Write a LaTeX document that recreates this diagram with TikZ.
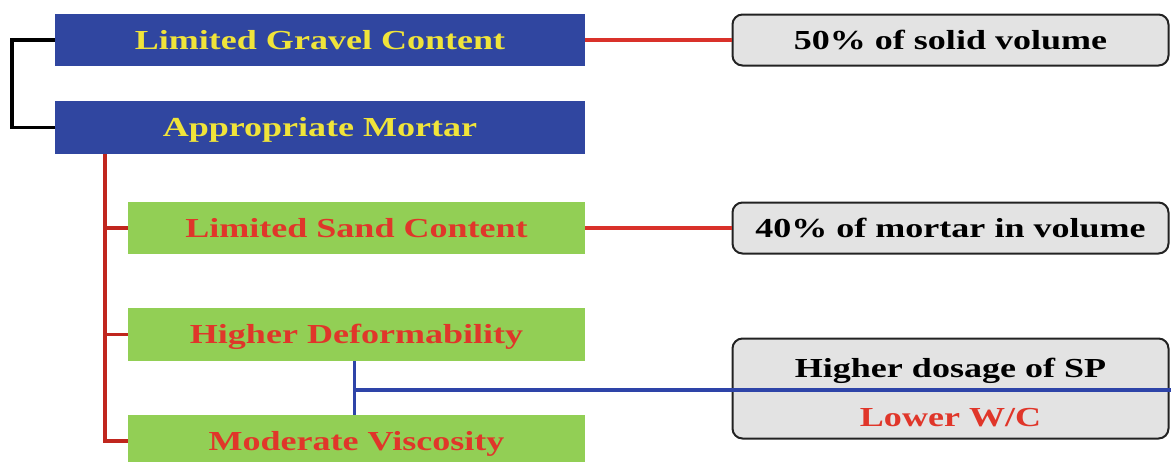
\documentclass[tikz,border=0pt]{standalone}
\usepackage{fontspec}
\setmainfont{Liberation Serif}[FakeStretch=1.31]
\usetikzlibrary{calc}
\definecolor{boxblue}{RGB}{48,70,160}
\definecolor{txtyellow}{RGB}{240,228,58}
\definecolor{boxgreen}{RGB}{146,207,85}
\definecolor{txtred}{RGB}{224,54,42}
\definecolor{boxgray}{RGB}{227,227,227}
\definecolor{edgegray}{RGB}{34,34,34}
\definecolor{linkred}{RGB}{217,49,42}
\definecolor{trunkred}{RGB}{192,38,30}
\definecolor{linkblue}{RGB}{46,68,168}
\tikzset{
  lbl/.style={font=\fontsize{27.5}{32}\selectfont\bfseries, text height=18pt, text depth=0pt, inner sep=0pt},
  mainbox/.style={lbl, fill=boxblue, text=txtyellow, minimum width=530pt, minimum height=52pt},
  subbox/.style={lbl, fill=boxgreen, text=txtred, minimum width=457pt, minimum height=52pt},
  notebox/.style={lbl, fill=boxgray, draw=edgegray, line width=2pt, rounded corners=10pt,
                  text=black, minimum width=436pt, minimum height=51pt},
  bracket/.style={line width=3.5pt, black},
  redlink/.style={line width=3.2pt, linkred},
  trunk/.style={line width=3.6pt, trunkred},
  bluelink/.style={line width=3.6pt, linkblue}
}
\begin{document}
\begin{tikzpicture}[x=1pt,y=-1pt]
\useasboundingbox (0,0) rectangle (1171,461);

% main requirements
\node[mainbox] (gravel) at (320,40) {Limited Gravel Content};
\node[mainbox, minimum height=53pt] (mortar) at (320,127.5) {Appropriate Mortar};

% mortar properties
\node[subbox] (sand) at (356.5,228) {Limited Sand Content};
\node[subbox, minimum height=53pt] (deform) at (356.5,334.5) {Higher Deformability};
\node[subbox] (visc) at (356.5,441) {Moderate Viscosity};

% quantitative notes
\node[notebox] (solid) at (950.5,40) {50\% of solid volume};
\node[notebox] (sandvol) at (950.5,228) {40\% of mortar in volume};
\node[notebox, minimum height=100pt] (mix) at (950.5,388.5) {};
\node[lbl] (sp) at ([yshift=20.5pt]mix.center) {Higher dosage of SP};
\node[lbl, text=txtred] (wc) at ([yshift=-28.5pt]mix.center) {Lower W/C};

% black bracket joining the two main requirements
\draw[bracket] (gravel.west) -- ++(-43,0) |- (mortar.west);

% red tree from the mortar box
\coordinate (tr) at ([xshift=50pt]mortar.south west);
\draw[trunk] (tr) |- (visc.west);
\draw[trunk] (tr |- sand.west) -- (sand.west);
\draw[trunk] (tr |- deform.west) -- (deform.west);

% links to the notes
\draw[redlink] (gravel.east) -- (solid.west);
\draw[redlink] (sand.east) -- (sandvol.west);

% blue link between deformability and viscosity, out to the mix note
\coordinate (bj) at ($(deform.south)!0.5!(visc.north)+(0,2)$);
\draw[bluelink] ([xshift=-2pt]deform.south) -- ([xshift=-2pt]visc.north);
\draw[bluelink] ([xshift=-2pt]bj) -- (bj -| mix.east) -- ++(3,0);
\end{tikzpicture}
\end{document}
